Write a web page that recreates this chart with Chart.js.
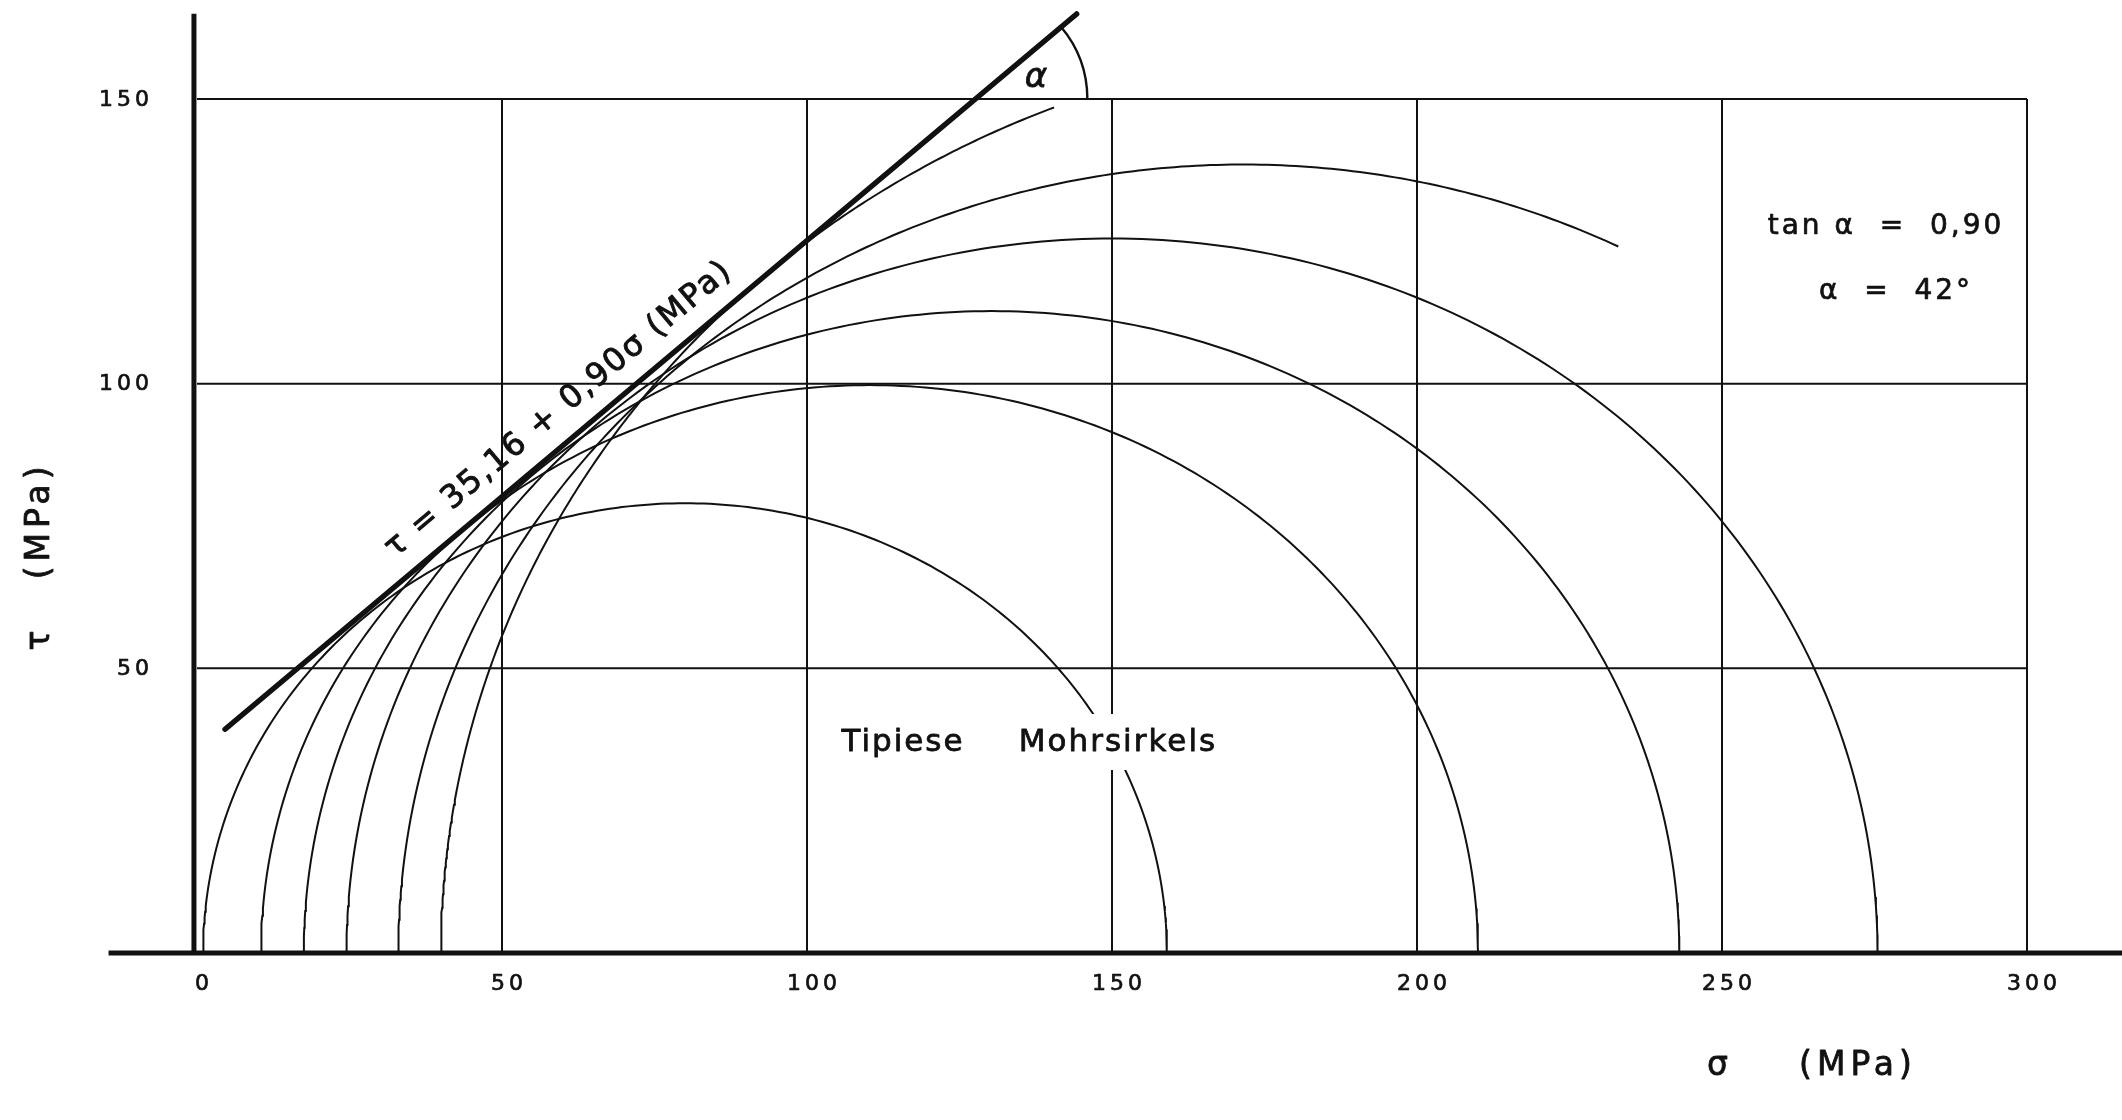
<!DOCTYPE html>
<html>
<head>
<meta charset="utf-8">
<script src="https://cdn.jsdelivr.net/npm/chart.js@4.4.1/dist/chart.umd.min.js"></script>
<style>
  html, body { margin: 0; padding: 0; background: #ffffff; overflow: hidden; }
  #wrap { width: 2122px; height: 1120px; position: relative; }
  canvas { display: block; }
</style>
</head>
<body>
<div id="wrap"><canvas id="c" width="2122" height="1120"></canvas></div>
<script>
// ---------------- data ----------------
const xTickValues = [0, 50, 100, 150, 200, 250, 300];
const yTickValues = [50, 100, 150];
const xTickLabels = ['0', '50', '100', '150', '200', '250', '300'];
const yTickLabels = ['50', '100', '150'];

// Mohr circles: minor / major principal stress (MPa)
const sigma3 = [1, 10.5, 17.5, 24.5, 33, 40];
const sigma1 = [159, 210, 243, 275.5, 310, 360];
// sigma at which each drawn arc stops (circles 5 and 6 are only partly drawn)
const arcEndSigma = [159, 210, 243, 275.5, 233, 140.5];

// Failure envelope  tau = c + tan(alpha) * sigma
const cohesion = 35.16;
const tanAlpha = 0.90;
const envelopeSigma = [4.6, 144.2];

const envelopeText = 'τ = 35,16 + 0,90σ (MPa)';
const xTitle = 'σ';
const xTitleUnit = '(MPa)';
const yTitle = 'τ   (MPa)';
const noteLine1 = 'tan α  =  0,90';
const noteLine2 = 'α  =  42°';
const circleLabel1 = 'Tipiese';
const circleLabel2 = 'Mohrsirkels';
const angleLabel = 'α';

// ---------------- build datasets ----------------
function arcPoints(s3, s1, sEnd) {
  const c = (s3 + s1) / 2, r = (s1 - s3) / 2;
  const ratio = Math.max(-1, Math.min(1, (sEnd - c) / r));
  const thEnd = Math.acos(ratio);
  const pts = [];
  const n = 240;
  for (let i = 0; i <= n; i++) {
    const th = Math.PI - (Math.PI - thEnd) * i / n;
    pts.push({ x: c + r * Math.cos(th), y: r * Math.sin(th) });
  }
  return pts;
}

const INK = '#111111';
const datasets = sigma3.map((s3, i) => ({
  label: 'Mohr ' + (i + 1),
  data: arcPoints(s3, sigma1[i], arcEndSigma[i]),
  showLine: true,
  borderColor: INK,
  borderWidth: 2,
  pointRadius: 0,
  tension: 0,
  fill: false
}));
datasets.push({
  label: 'Envelope',
  data: envelopeSigma.map(s => ({ x: s, y: cohesion + tanAlpha * s })),
  showLine: true,
  borderColor: INK,
  borderWidth: 5.5,
  borderCapStyle: 'round',
  pointRadius: 0,
  fill: false
});

// heavy "lettering" look: fill + thin stroke
function ink(ctx, text, x, y, w) {
  ctx.fillText(text, x, y);
  ctx.lineWidth = w;
  ctx.strokeText(text, x, y);
}

// ---------------- decoration plugin (grid, axes, texts) ----------------
const decor = {
  id: 'decor',
  beforeDatasetsDraw(chart) {
    const { ctx, scales: { x, y } } = chart;
    const px = v => x.getPixelForValue(v), py = v => y.getPixelForValue(v);
    const seg = (x1, y1, x2, y2) => { ctx.beginPath(); ctx.moveTo(x1, y1); ctx.lineTo(x2, y2); ctx.stroke(); };
    const xMax = xTickValues[xTickValues.length - 1];
    const yMax = yTickValues[yTickValues.length - 1];
    ctx.save();
    ctx.strokeStyle = INK;
    ctx.lineWidth = 2;
    yTickValues.forEach(t => seg(px(0), py(t), px(xMax), py(t)));
    xTickValues.filter(t => t > 0).forEach(t => seg(px(t), py(0), px(t), py(yMax)));
    // main axes
    ctx.lineWidth = 5;
    seg(px(-0.5), py(0) + 2, px(-0.5), py(165));
    seg(px(-14.5), py(0), chart.width, py(0));
    ctx.restore();
  },
  afterDatasetsDraw(chart) {
    const { ctx, scales: { x, y } } = chart;
    const px = v => x.getPixelForValue(v), py = v => y.getPixelForValue(v);
    ctx.save();
    ctx.fillStyle = INK;
    ctx.strokeStyle = INK;
    ctx.lineJoin = 'round';

    // tick labels
    ctx.font = '22px "DejaVu Sans"';
    ctx.letterSpacing = '4px';
    ctx.textBaseline = 'middle';
    ctx.textAlign = 'center';
    xTickValues.forEach((t, i) => ink(ctx, xTickLabels[i], px(t) + 7, py(0) + 31, 0.7));
    ctx.textAlign = 'right';
    yTickValues.forEach((t, i) => ink(ctx, yTickLabels[i], px(0) - 44, py(t) + 1, 0.7));

    // axis titles
    ctx.font = '33px "DejaVu Sans"';
    ctx.letterSpacing = '5px';
    ctx.textAlign = 'center';
    ink(ctx, xTitle, 1720, 1066, 0.8);
    ink(ctx, xTitleUnit, 1858, 1066, 0.8);
    ctx.save();
    ctx.translate(40, 556);
    ctx.rotate(-Math.PI / 2);
    ink(ctx, yTitle, 0, 0, 0.8);
    ctx.restore();

    // label of circles with white knock-out
    ctx.font = '31px "DejaVu Sans"';
    ctx.letterSpacing = '2px';
    const ly = 743;
    const w2 = ctx.measureText(circleLabel2).width;
    ctx.fillStyle = '#ffffff';
    ctx.fillRect(1117 - w2 / 2 - 8, ly - 29, w2 + 16, 56);
    ctx.fillStyle = INK;
    ink(ctx, circleLabel1, 903, ly, 0.8);
    ink(ctx, circleLabel2, 1118, ly, 0.8);

    // notes at right
    ctx.font = '28px "DejaVu Sans"';
    ctx.letterSpacing = '3px';
    ink(ctx, noteLine1, 1886, 227, 0.7);
    ink(ctx, noteLine2, 1896, 292, 0.7);

    // envelope equation along the line
    const a = { x: px(envelopeSigma[0]), y: py(cohesion + tanAlpha * envelopeSigma[0]) };
    const b = { x: px(envelopeSigma[1]), y: py(cohesion + tanAlpha * envelopeSigma[1]) };
    const ang = Math.atan2(b.y - a.y, b.x - a.x);
    const sMid = 62.5;
    ctx.save();
    ctx.translate(px(sMid), py(cohesion + tanAlpha * sMid));
    ctx.rotate(ang);
    ctx.font = '32px "DejaVu Sans"';
    ctx.letterSpacing = '2px';
    ink(ctx, envelopeText, 0, -30, 0.9);
    ctx.restore();

    // angle alpha arc at tau = 150
    const sAt150 = (yTickValues[yTickValues.length - 1] - cohesion) / tanAlpha;
    const cx = px(sAt150), cy = py(150);
    ctx.lineWidth = 2.4;
    ctx.beginPath();
    ctx.arc(cx, cy, 112, ang, 0);
    ctx.stroke();
    ctx.font = 'italic 34px "DejaVu Sans"';
    ctx.letterSpacing = '0px';
    ink(ctx, angleLabel, 1036, 78, 0.8);

    ctx.restore();
  }
};

const PX_PER_SIGMA = 6.1, PX_PER_TAU = 5.693, ORIGIN_X = 197, ORIGIN_Y = 953;
new Chart(document.getElementById('c'), {
  type: 'scatter',
  data: { datasets },
  options: {
    responsive: false,
    animation: false,
    events: [],
    layout: { padding: 0 },
    plugins: { legend: { display: false }, tooltip: { enabled: false } },
    scales: {
      x: { type: 'linear', display: false, min: -ORIGIN_X / PX_PER_SIGMA, max: (2122 - ORIGIN_X) / PX_PER_SIGMA },
      y: { type: 'linear', display: false, min: -(1120 - ORIGIN_Y) / PX_PER_TAU, max: ORIGIN_Y / PX_PER_TAU }
    }
  },
  plugins: [decor]
});
</script>
</body>
</html>
